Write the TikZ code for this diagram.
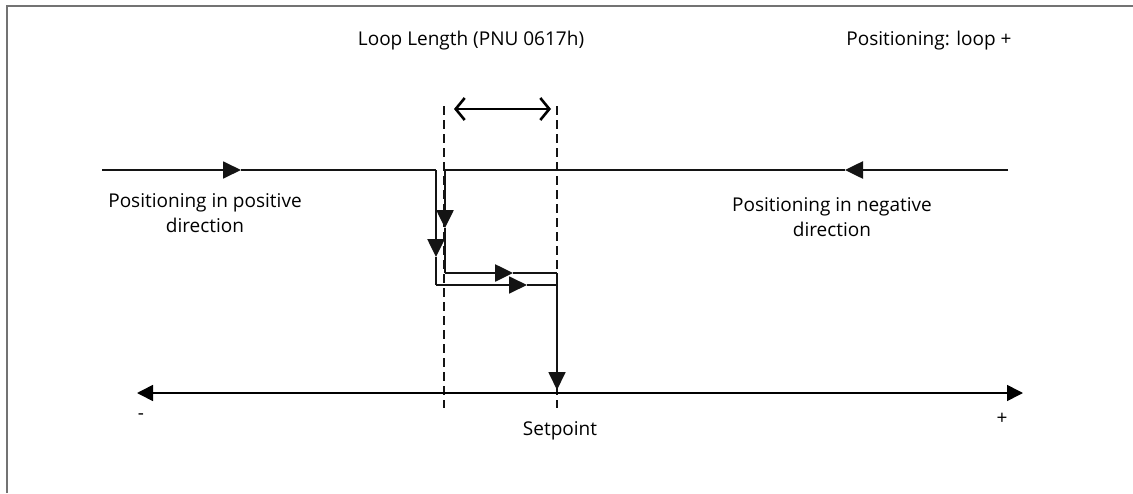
\documentclass[tikz,border=0pt]{standalone}
\usepackage{fontspec}
\setmainfont{Open Sans}
\usetikzlibrary{arrows.meta}
\begin{document}
\begin{tikzpicture}[x=1pt,y=-1pt,
  lbl/.style={font=\fontsize{19}{25}\selectfont, inner sep=0pt, align=center, text=black},
  tri/.style={-{Triangle[length=18pt,width=17pt]}},
  path/.style={line width=2.6pt, draw=black!92},
  thin/.style={line width=1.8pt, draw=black!92},
  guide/.style={line width=2pt, dash pattern=on 9pt off 5pt, draw=black!92},
]
\useasboundingbox (0,0) rectangle (1133,493);
% frame
\draw[line width=1.5pt, black!55] (7,493) -- (7,6) -- (1133,6);

% coordinates
\coordinate (pS) at (102,170);
\coordinate (pA) at (241,170);
\coordinate (pC) at (436,170);
\coordinate (pD) at (436,257);
\coordinate (pE) at (436,285);
\coordinate (pF) at (527,285);
\coordinate (pG) at (557,285);

\coordinate (nS) at (1008,170);
\coordinate (nA) at (845,170);
\coordinate (nC) at (445,170);
\coordinate (nD) at (445,228);
\coordinate (nE) at (445,273);
\coordinate (nF) at (513,273);
\coordinate (sp) at (557,273);
\coordinate (spT) at (557,390);

\coordinate (d1t) at (444,106);
\coordinate (d1b) at (444,408);
\coordinate (d2t) at (557,106);
\coordinate (d2b) at (557,408);

\coordinate (llA) at (454,109);
\coordinate (llB) at (551,109);

\coordinate (axL) at (137,393);
\coordinate (axR) at (1023,393);

% dashed guides
\draw[guide] (d1t) -- (d1b);
\draw[guide] (d2t) -- (d2b);

% loop length double arrow
\draw[line width=1.8pt, {Straight Barb[length=9pt,width=22pt,line width=2.6pt]}-{Straight Barb[length=9pt,width=22pt,line width=2.6pt]}] (llA) -- (llB);

% positive approach
\draw[thin, tri] (pS) -- (pA);
\draw[path] (pA) -- (pC);
\draw[path, tri] (pC) -- (pD);
\draw[thin] (pD) -- (pE);
\draw[thin, tri] (pE) -- (pF);
\draw[thin] (pF) -- (pG);

% negative approach
\draw[path, tri] (nS) -- (nA);
\draw[path] (nA) -- (nC);
\draw[path, tri] (nC) -- (nD);
\draw[path] (nD) -- (nE);
\draw[path, tri] (nE) -- (nF);
\draw[path] (nF) -- (sp);
\draw[thin, tri] (sp) -- (spT);

% axis
\draw[line width=1.6pt, {Triangle[length=16pt,width=16pt]}-{Triangle[length=16pt,width=16pt]}] (axL) -- (axR);

% labels
\node[lbl] (tLL) at (471,41) {Loop Length (PNU 0617h)};
\node[lbl] (tPL) at (929,41) {Positioning: loop +};
\node[lbl] (tPos) at (205,213) {Positioning in positive\\direction};
\node[lbl] (tNeg) at (832,217) {Positioning in negative\\direction};
\node[lbl] (tSP) at (560,431) {Setpoint};
\node[lbl] (tMin) at (141,417) {-};
\node[lbl] (tPlus) at (1002,419) {+};
\end{tikzpicture}
\end{document}
